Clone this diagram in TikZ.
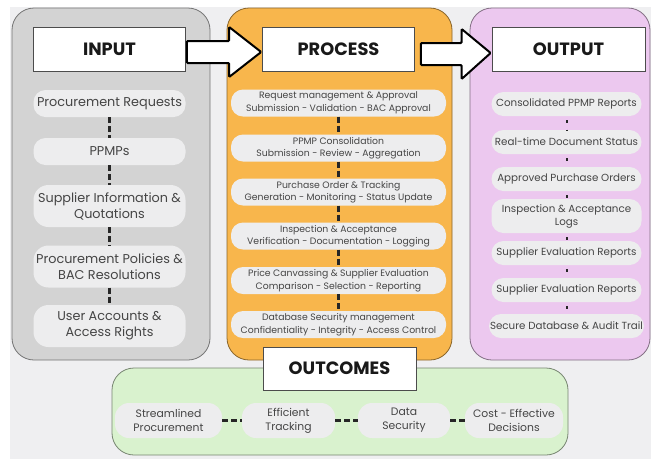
\documentclass[tikz,border=0pt]{standalone}
\usepackage{fontspec}
\setmainfont{Poppins}
\usetikzlibrary{positioning, calc}

\definecolor{pageGray}{HTML}{EFEFF1}
\definecolor{inFill}{HTML}{D3D3D3}
\definecolor{procFill}{HTML}{F8B64C}
\definecolor{outFill}{HTML}{ECC8EF}
\definecolor{resFill}{HTML}{D9F2CE}
\definecolor{pillFill}{HTML}{EDEDEE}
\definecolor{inkGray}{HTML}{454545}

\tikzset{
  panel/.style={draw=#1!55!black, fill=#1, rounded corners=22pt, line width=0.8pt},
  header/.style={draw=black!70, fill=white, line width=0.7pt, minimum width=152pt,
    minimum height=44pt, font=\fontsize{17.8}{20}\selectfont\bfseries, text=black!90},
  pill/.style={fill=pillFill, rounded corners=12pt, text=inkGray, align=center, inner sep=1pt},
  inpill/.style={pill, minimum width=152pt, minimum height=27pt, font=\fontsize{12.8}{16}\selectfont},
  procpill/.style={pill, minimum width=215pt, minimum height=27pt, font=\fontsize{9.3}{12.5}\selectfont},
  outpill/.style={pill, minimum width=150pt, minimum height=24pt, font=\fontsize{10.3}{13}\selectfont},
  respill/.style={pill, minimum height=35pt, rounded corners=14pt, font=\fontsize{10.8}{14}\selectfont},
  link/.style={draw=black!85, line width=2.6pt, dash pattern=on 6pt off 3pt},
  bigarrow/.style={draw=black, fill=white, line width=2pt, rounded corners=1pt}
}

\begin{document}
\begin{tikzpicture}[x=1pt, y=-1pt, node distance=40pt, on grid]
  \useasboundingbox (0,0) rectangle (651,459);
  \fill[pageGray] (10,7) rectangle (651,459);

  % the three columns
  \draw[panel=inFill]   (12,8)   rectangle (210,360);
  \draw[panel=procFill] (227,8)  rectangle (452,360);
  \draw[panel=outFill]  (470,8)  rectangle (650,360);

  \node[header] (inhead)   at (109.5,49) {INPUT};
  \node[header] (prochead) at (338.5,49) {PROCESS};
  \node[header, minimum width=153pt] (outhead) at (568.5,49) {OUTPUT};

  % block arrows between the headers
  \draw[bigarrow] ($(inhead.east)+(1,-8)$) -- ($(prochead.west)+(-33,-8)$)
    -- ($(prochead.west)+(-33,-22)$) -- ($(prochead.west)+(-1,3)$)
    -- ($(prochead.west)+(-33,28)$) -- ($(prochead.west)+(-33,14)$)
    -- ($(inhead.east)+(1,14)$) -- cycle;
  \draw[bigarrow] ($(prochead.east)+(6,-6)$) -- ($(outhead.west)+(-30,-6)$)
    -- ($(outhead.west)+(-30,-20)$) -- ($(outhead.west)+(-1,4)$)
    -- ($(outhead.west)+(-30,30)$) -- ($(outhead.west)+(-30,16)$)
    -- ($(prochead.east)+(6,16)$) -- cycle;

  % inputs
  \node[inpill, below=54.5pt of inhead] (in1) {Procurement Requests};
  \node[inpill, below=48pt of in1] (in2) {PPMPs};
  \node[inpill, below=54.5pt of in2, minimum height=42pt, rounded corners=15pt] (in3)
    {Supplier Information \&\\Quotations};
  \node[inpill, below=60.5pt of in3, minimum height=42pt, rounded corners=15pt] (in4)
    {Procurement Policies \&\\BAC Resolutions};
  \node[inpill, below=59.5pt of in4, minimum height=42pt, rounded corners=15pt] (in5)
    {User Accounts \&\\Access Rights};

  % process steps
  \node[procpill, below=54pt of prochead] (p1)
    {Request management \& Approval\\Submission - Validation - BAC Approval};
  \node[procpill, below=45pt of p1] (p2)
    {PPMP Consolidation\\Submission - Review - Aggregation};
  \node[procpill, below=44pt of p2] (p3)
    {Purchase Order \& Tracking\\Generation - Monitoring - Status Update};
  \node[procpill, below=44pt of p3] (p4)
    {Inspection \& Acceptance\\Verification - Documentation - Logging};
  \node[procpill, below=44.5pt of p4] (p5)
    {Price Canvassing \& Supplier Evaluation\\Comparison - Selection - Reporting};
  \node[procpill, below=44pt of p5] (p6)
    {Database Security management\\Confidentiality - Integrity - Access Control};

  % outputs
  \node[outpill, below=55pt of outhead, xshift=-2pt] (o1) {Consolidated PPMP Reports};
  \node[outpill, below=38pt of o1] (o2) {Real-time Document Status};
  \node[outpill, below=37pt of o2] (o3) {Approved Purchase Orders};
  \node[outpill, below=37pt of o3, minimum height=34pt] (o4) {Inspection \& Acceptance\\Logs};
  \node[outpill, below=37pt of o4] (o5) {Supplier Evaluation Reports};
  \node[outpill, below=37pt of o5] (o6) {Supplier Evaluation Reports};
  \node[outpill, below=36pt of o6] (o7) {Secure Database \& Audit Trail};

  % outcomes strip
  \draw[panel=resFill] (112,368) rectangle (568,455);
  \node[header, minimum width=153pt, minimum height=43pt] (reshead) at (339.5,368.5) {OUTCOMES};
  \node[respill, minimum width=107pt] (r1) at (168.5,420.5) {Streamlined\\Procurement};
  \node[respill, minimum width=93pt]  (r2) at (288.5,420.5) {Efficient\\Tracking};
  \node[respill, minimum width=92pt]  (r3) at (404,420.5)   {Data\\Security};
  \node[respill, minimum width=98pt]  (r4) at (514,420.5)   {Cost - Effective\\Decisions};

  \path[link] (in1) -- (in2) (in2) -- (in3) (in3) -- (in4) (in4) -- (in5)
    (p1) -- (p2) (p2) -- (p3) (p3) -- (p4) (p4) -- (p5) (p5) -- (p6)
    (r1) -- (r2) (r2) -- (r3) (r3) -- (r4);
  \path[link, line width=2pt, dash pattern=on 2.5pt off 7pt, dash phase=-4pt]
    (o1) -- (o2) (o2) -- (o3) (o3) -- (o4) (o4) -- (o5) (o5) -- (o6) (o6) -- (o7);
\end{tikzpicture}
\end{document}
